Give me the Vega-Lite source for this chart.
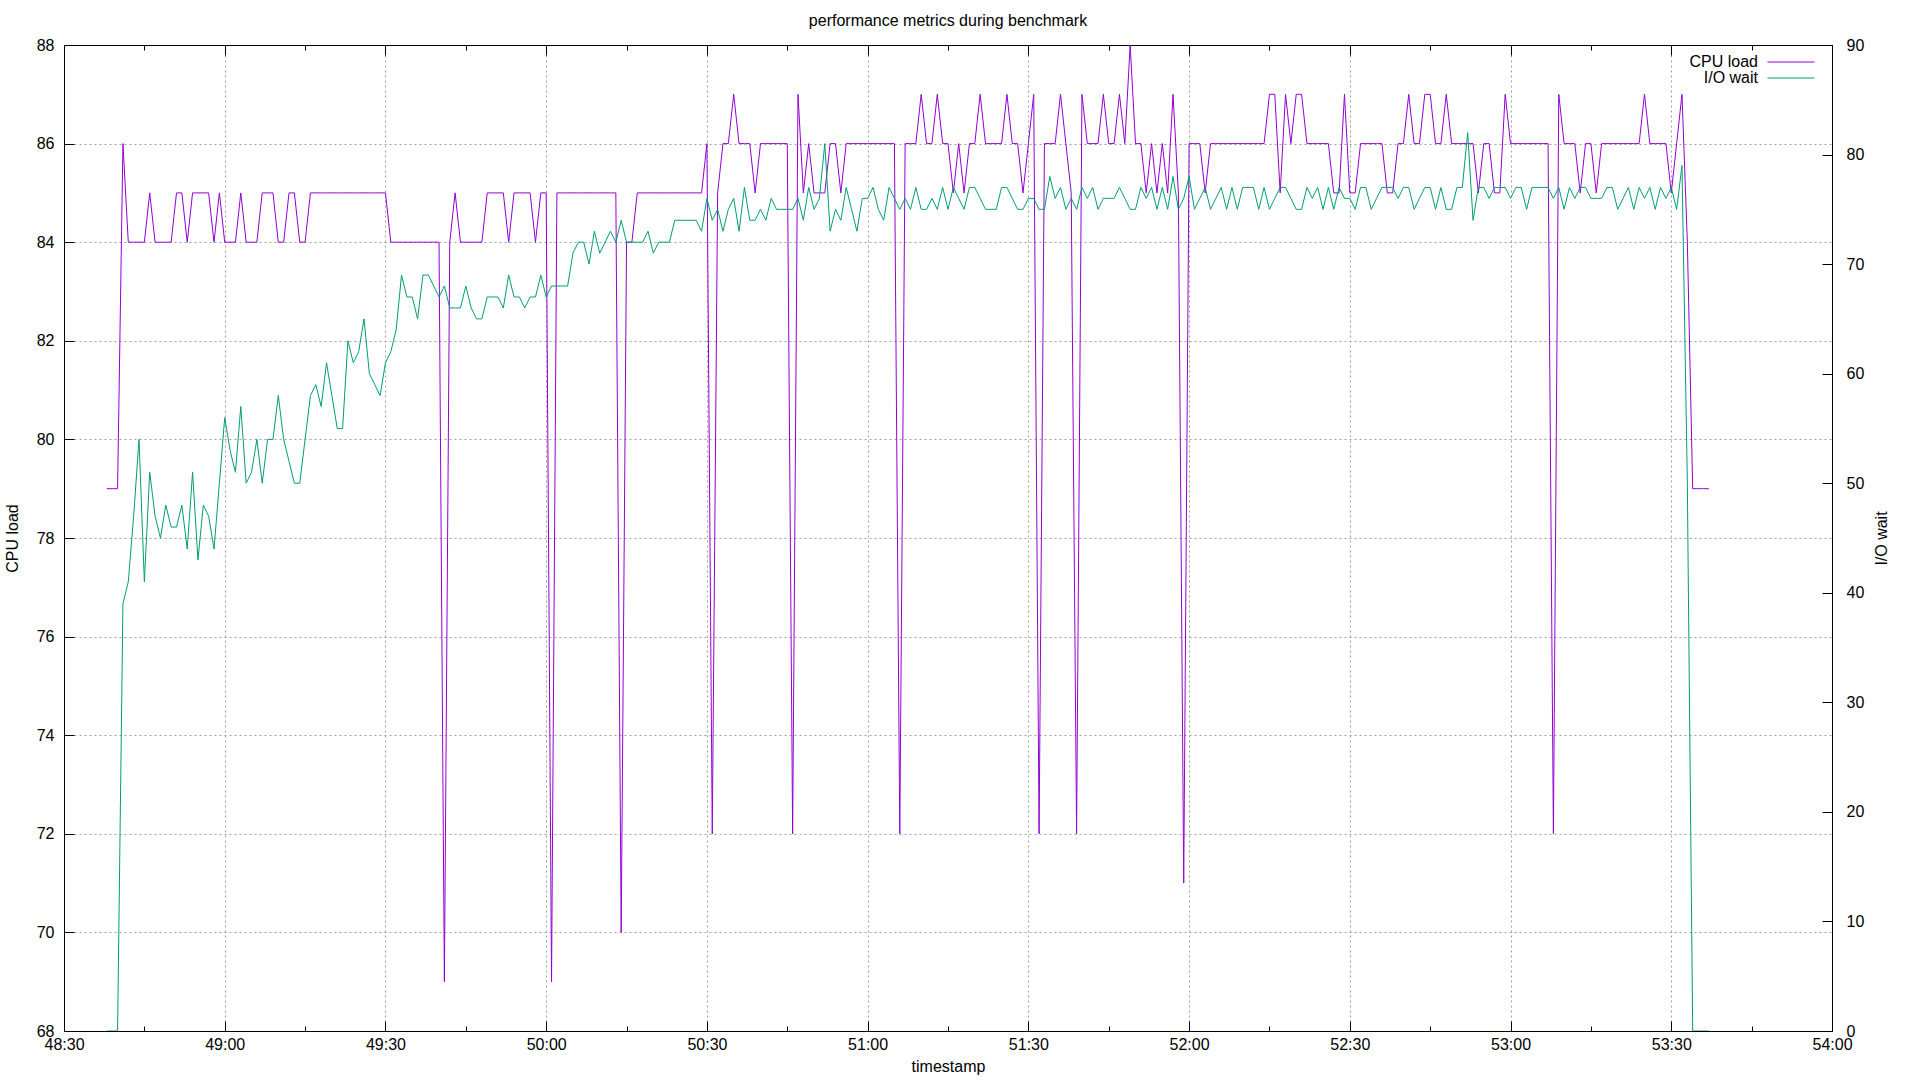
{
"$schema": "https://vega.github.io/schema/vega-lite/v6.json",
"width": 1768, "height": 986,
"autosize": {"type": "none"},
"padding": {"left": 64, "top": 45, "right": 88, "bottom": 49},
"background": "white",
"title": {"text": "performance metrics during benchmark", "fontSize": 16, "fontWeight": "normal", "font": "Liberation Sans", "offset": 8, "color": "black"},
"config": {
  "view": {"stroke": "black", "strokeWidth": 1},
  "font": "Liberation Sans",
  "axis": {"labelFont": "Liberation Sans", "titleFont": "Liberation Sans", "labelFontSize": 16, "titleFontSize": 16, "titleFontWeight": "normal", "labelColor": "black", "titleColor": "black", "domainColor": "black", "tickColor": "black", "tickWidth": 1, "domainWidth": 1}
},
"datasets": {"d": [
{"time":"2024-01-01T10:48:38","cpu":79,"io":0},
{"time":"2024-01-01T10:48:39","cpu":79,"io":0},
{"time":"2024-01-01T10:48:40","cpu":79,"io":0},
{"time":"2024-01-01T10:48:41","cpu":86,"io":39},
{"time":"2024-01-01T10:48:42","cpu":84,"io":41},
{"time":"2024-01-01T10:48:43","cpu":84,"io":47},
{"time":"2024-01-01T10:48:44","cpu":84,"io":54},
{"time":"2024-01-01T10:48:45","cpu":84,"io":41},
{"time":"2024-01-01T10:48:46","cpu":85,"io":51},
{"time":"2024-01-01T10:48:47","cpu":84,"io":47},
{"time":"2024-01-01T10:48:48","cpu":84,"io":45},
{"time":"2024-01-01T10:48:49","cpu":84,"io":48},
{"time":"2024-01-01T10:48:50","cpu":84,"io":46},
{"time":"2024-01-01T10:48:51","cpu":85,"io":46},
{"time":"2024-01-01T10:48:52","cpu":85,"io":48},
{"time":"2024-01-01T10:48:53","cpu":84,"io":44},
{"time":"2024-01-01T10:48:54","cpu":85,"io":51},
{"time":"2024-01-01T10:48:55","cpu":85,"io":43},
{"time":"2024-01-01T10:48:56","cpu":85,"io":48},
{"time":"2024-01-01T10:48:57","cpu":85,"io":47},
{"time":"2024-01-01T10:48:58","cpu":84,"io":44},
{"time":"2024-01-01T10:48:59","cpu":85,"io":50},
{"time":"2024-01-01T10:49:00","cpu":84,"io":56},
{"time":"2024-01-01T10:49:01","cpu":84,"io":53},
{"time":"2024-01-01T10:49:02","cpu":84,"io":51},
{"time":"2024-01-01T10:49:03","cpu":85,"io":57},
{"time":"2024-01-01T10:49:04","cpu":84,"io":50},
{"time":"2024-01-01T10:49:05","cpu":84,"io":51},
{"time":"2024-01-01T10:49:06","cpu":84,"io":54},
{"time":"2024-01-01T10:49:07","cpu":85,"io":50},
{"time":"2024-01-01T10:49:08","cpu":85,"io":54},
{"time":"2024-01-01T10:49:09","cpu":85,"io":54},
{"time":"2024-01-01T10:49:10","cpu":84,"io":58},
{"time":"2024-01-01T10:49:11","cpu":84,"io":54},
{"time":"2024-01-01T10:49:12","cpu":85,"io":52},
{"time":"2024-01-01T10:49:13","cpu":85,"io":50},
{"time":"2024-01-01T10:49:14","cpu":84,"io":50},
{"time":"2024-01-01T10:49:15","cpu":84,"io":54},
{"time":"2024-01-01T10:49:16","cpu":85,"io":58},
{"time":"2024-01-01T10:49:17","cpu":85,"io":59},
{"time":"2024-01-01T10:49:18","cpu":85,"io":57},
{"time":"2024-01-01T10:49:19","cpu":85,"io":61},
{"time":"2024-01-01T10:49:20","cpu":85,"io":58},
{"time":"2024-01-01T10:49:21","cpu":85,"io":55},
{"time":"2024-01-01T10:49:22","cpu":85,"io":55},
{"time":"2024-01-01T10:49:23","cpu":85,"io":63},
{"time":"2024-01-01T10:49:24","cpu":85,"io":61},
{"time":"2024-01-01T10:49:25","cpu":85,"io":62},
{"time":"2024-01-01T10:49:26","cpu":85,"io":65},
{"time":"2024-01-01T10:49:27","cpu":85,"io":60},
{"time":"2024-01-01T10:49:28","cpu":85,"io":59},
{"time":"2024-01-01T10:49:29","cpu":85,"io":58},
{"time":"2024-01-01T10:49:30","cpu":85,"io":61},
{"time":"2024-01-01T10:49:31","cpu":84,"io":62},
{"time":"2024-01-01T10:49:32","cpu":84,"io":64},
{"time":"2024-01-01T10:49:33","cpu":84,"io":69},
{"time":"2024-01-01T10:49:34","cpu":84,"io":67},
{"time":"2024-01-01T10:49:35","cpu":84,"io":67},
{"time":"2024-01-01T10:49:36","cpu":84,"io":65},
{"time":"2024-01-01T10:49:37","cpu":84,"io":69},
{"time":"2024-01-01T10:49:38","cpu":84,"io":69},
{"time":"2024-01-01T10:49:39","cpu":84,"io":68},
{"time":"2024-01-01T10:49:40","cpu":84,"io":67},
{"time":"2024-01-01T10:49:41","cpu":69,"io":68},
{"time":"2024-01-01T10:49:42","cpu":84,"io":66},
{"time":"2024-01-01T10:49:43","cpu":85,"io":66},
{"time":"2024-01-01T10:49:44","cpu":84,"io":66},
{"time":"2024-01-01T10:49:45","cpu":84,"io":68},
{"time":"2024-01-01T10:49:46","cpu":84,"io":66},
{"time":"2024-01-01T10:49:47","cpu":84,"io":65},
{"time":"2024-01-01T10:49:48","cpu":84,"io":65},
{"time":"2024-01-01T10:49:49","cpu":85,"io":67},
{"time":"2024-01-01T10:49:50","cpu":85,"io":67},
{"time":"2024-01-01T10:49:51","cpu":85,"io":67},
{"time":"2024-01-01T10:49:52","cpu":85,"io":66},
{"time":"2024-01-01T10:49:53","cpu":84,"io":69},
{"time":"2024-01-01T10:49:54","cpu":85,"io":67},
{"time":"2024-01-01T10:49:55","cpu":85,"io":67},
{"time":"2024-01-01T10:49:56","cpu":85,"io":66},
{"time":"2024-01-01T10:49:57","cpu":85,"io":67},
{"time":"2024-01-01T10:49:58","cpu":84,"io":67},
{"time":"2024-01-01T10:49:59","cpu":85,"io":69},
{"time":"2024-01-01T10:50:00","cpu":85,"io":67},
{"time":"2024-01-01T10:50:01","cpu":69,"io":68},
{"time":"2024-01-01T10:50:02","cpu":85,"io":68},
{"time":"2024-01-01T10:50:03","cpu":85,"io":68},
{"time":"2024-01-01T10:50:04","cpu":85,"io":68},
{"time":"2024-01-01T10:50:05","cpu":85,"io":71},
{"time":"2024-01-01T10:50:06","cpu":85,"io":72},
{"time":"2024-01-01T10:50:07","cpu":85,"io":72},
{"time":"2024-01-01T10:50:08","cpu":85,"io":70},
{"time":"2024-01-01T10:50:09","cpu":85,"io":73},
{"time":"2024-01-01T10:50:10","cpu":85,"io":71},
{"time":"2024-01-01T10:50:11","cpu":85,"io":72},
{"time":"2024-01-01T10:50:12","cpu":85,"io":73},
{"time":"2024-01-01T10:50:13","cpu":85,"io":72},
{"time":"2024-01-01T10:50:14","cpu":70,"io":74},
{"time":"2024-01-01T10:50:15","cpu":84,"io":72},
{"time":"2024-01-01T10:50:16","cpu":84,"io":72},
{"time":"2024-01-01T10:50:17","cpu":85,"io":72},
{"time":"2024-01-01T10:50:18","cpu":85,"io":72},
{"time":"2024-01-01T10:50:19","cpu":85,"io":73},
{"time":"2024-01-01T10:50:20","cpu":85,"io":71},
{"time":"2024-01-01T10:50:21","cpu":85,"io":72},
{"time":"2024-01-01T10:50:22","cpu":85,"io":72},
{"time":"2024-01-01T10:50:23","cpu":85,"io":72},
{"time":"2024-01-01T10:50:24","cpu":85,"io":74},
{"time":"2024-01-01T10:50:25","cpu":85,"io":74},
{"time":"2024-01-01T10:50:26","cpu":85,"io":74},
{"time":"2024-01-01T10:50:27","cpu":85,"io":74},
{"time":"2024-01-01T10:50:28","cpu":85,"io":74},
{"time":"2024-01-01T10:50:29","cpu":85,"io":73},
{"time":"2024-01-01T10:50:30","cpu":86,"io":76},
{"time":"2024-01-01T10:50:31","cpu":72,"io":74},
{"time":"2024-01-01T10:50:32","cpu":85,"io":75},
{"time":"2024-01-01T10:50:33","cpu":86,"io":73},
{"time":"2024-01-01T10:50:34","cpu":86,"io":75},
{"time":"2024-01-01T10:50:35","cpu":87,"io":76},
{"time":"2024-01-01T10:50:36","cpu":86,"io":73},
{"time":"2024-01-01T10:50:37","cpu":86,"io":77},
{"time":"2024-01-01T10:50:38","cpu":86,"io":74},
{"time":"2024-01-01T10:50:39","cpu":85,"io":74},
{"time":"2024-01-01T10:50:40","cpu":86,"io":75},
{"time":"2024-01-01T10:50:41","cpu":86,"io":74},
{"time":"2024-01-01T10:50:42","cpu":86,"io":76},
{"time":"2024-01-01T10:50:43","cpu":86,"io":75},
{"time":"2024-01-01T10:50:44","cpu":86,"io":75},
{"time":"2024-01-01T10:50:45","cpu":86,"io":75},
{"time":"2024-01-01T10:50:46","cpu":72,"io":75},
{"time":"2024-01-01T10:50:47","cpu":87,"io":76},
{"time":"2024-01-01T10:50:48","cpu":85,"io":74},
{"time":"2024-01-01T10:50:49","cpu":86,"io":77},
{"time":"2024-01-01T10:50:50","cpu":85,"io":75},
{"time":"2024-01-01T10:50:51","cpu":85,"io":76},
{"time":"2024-01-01T10:50:52","cpu":85,"io":81},
{"time":"2024-01-01T10:50:53","cpu":86,"io":73},
{"time":"2024-01-01T10:50:54","cpu":86,"io":75},
{"time":"2024-01-01T10:50:55","cpu":85,"io":74},
{"time":"2024-01-01T10:50:56","cpu":86,"io":77},
{"time":"2024-01-01T10:50:57","cpu":86,"io":75},
{"time":"2024-01-01T10:50:58","cpu":86,"io":73},
{"time":"2024-01-01T10:50:59","cpu":86,"io":76},
{"time":"2024-01-01T10:51:00","cpu":86,"io":76},
{"time":"2024-01-01T10:51:01","cpu":86,"io":77},
{"time":"2024-01-01T10:51:02","cpu":86,"io":75},
{"time":"2024-01-01T10:51:03","cpu":86,"io":74},
{"time":"2024-01-01T10:51:04","cpu":86,"io":77},
{"time":"2024-01-01T10:51:05","cpu":86,"io":76},
{"time":"2024-01-01T10:51:06","cpu":72,"io":75},
{"time":"2024-01-01T10:51:07","cpu":86,"io":76},
{"time":"2024-01-01T10:51:08","cpu":86,"io":75},
{"time":"2024-01-01T10:51:09","cpu":86,"io":77},
{"time":"2024-01-01T10:51:10","cpu":87,"io":75},
{"time":"2024-01-01T10:51:11","cpu":86,"io":75},
{"time":"2024-01-01T10:51:12","cpu":86,"io":76},
{"time":"2024-01-01T10:51:13","cpu":87,"io":75},
{"time":"2024-01-01T10:51:14","cpu":86,"io":77},
{"time":"2024-01-01T10:51:15","cpu":86,"io":75},
{"time":"2024-01-01T10:51:16","cpu":85,"io":77},
{"time":"2024-01-01T10:51:17","cpu":86,"io":76},
{"time":"2024-01-01T10:51:18","cpu":85,"io":75},
{"time":"2024-01-01T10:51:19","cpu":86,"io":77},
{"time":"2024-01-01T10:51:20","cpu":86,"io":77},
{"time":"2024-01-01T10:51:21","cpu":87,"io":76},
{"time":"2024-01-01T10:51:22","cpu":86,"io":75},
{"time":"2024-01-01T10:51:23","cpu":86,"io":75},
{"time":"2024-01-01T10:51:24","cpu":86,"io":75},
{"time":"2024-01-01T10:51:25","cpu":86,"io":77},
{"time":"2024-01-01T10:51:26","cpu":87,"io":77},
{"time":"2024-01-01T10:51:27","cpu":86,"io":76},
{"time":"2024-01-01T10:51:28","cpu":86,"io":75},
{"time":"2024-01-01T10:51:29","cpu":85,"io":75},
{"time":"2024-01-01T10:51:30","cpu":86,"io":76},
{"time":"2024-01-01T10:51:31","cpu":87,"io":76},
{"time":"2024-01-01T10:51:32","cpu":72,"io":75},
{"time":"2024-01-01T10:51:33","cpu":86,"io":75},
{"time":"2024-01-01T10:51:34","cpu":86,"io":78},
{"time":"2024-01-01T10:51:35","cpu":86,"io":76},
{"time":"2024-01-01T10:51:36","cpu":87,"io":77},
{"time":"2024-01-01T10:51:37","cpu":86,"io":75},
{"time":"2024-01-01T10:51:38","cpu":85,"io":76},
{"time":"2024-01-01T10:51:39","cpu":72,"io":75},
{"time":"2024-01-01T10:51:40","cpu":87,"io":77},
{"time":"2024-01-01T10:51:41","cpu":86,"io":76},
{"time":"2024-01-01T10:51:42","cpu":86,"io":77},
{"time":"2024-01-01T10:51:43","cpu":86,"io":75},
{"time":"2024-01-01T10:51:44","cpu":87,"io":76},
{"time":"2024-01-01T10:51:45","cpu":86,"io":76},
{"time":"2024-01-01T10:51:46","cpu":86,"io":76},
{"time":"2024-01-01T10:51:47","cpu":87,"io":77},
{"time":"2024-01-01T10:51:48","cpu":86,"io":76},
{"time":"2024-01-01T10:51:49","cpu":88,"io":75},
{"time":"2024-01-01T10:51:50","cpu":86,"io":75},
{"time":"2024-01-01T10:51:51","cpu":86,"io":77},
{"time":"2024-01-01T10:51:52","cpu":85,"io":76},
{"time":"2024-01-01T10:51:53","cpu":86,"io":77},
{"time":"2024-01-01T10:51:54","cpu":85,"io":75},
{"time":"2024-01-01T10:51:55","cpu":86,"io":77},
{"time":"2024-01-01T10:51:56","cpu":85,"io":75},
{"time":"2024-01-01T10:51:57","cpu":87,"io":78},
{"time":"2024-01-01T10:51:58","cpu":85,"io":75},
{"time":"2024-01-01T10:51:59","cpu":71,"io":76},
{"time":"2024-01-01T10:52:00","cpu":86,"io":78},
{"time":"2024-01-01T10:52:01","cpu":86,"io":75},
{"time":"2024-01-01T10:52:02","cpu":86,"io":76},
{"time":"2024-01-01T10:52:03","cpu":85,"io":77},
{"time":"2024-01-01T10:52:04","cpu":86,"io":75},
{"time":"2024-01-01T10:52:05","cpu":86,"io":76},
{"time":"2024-01-01T10:52:06","cpu":86,"io":77},
{"time":"2024-01-01T10:52:07","cpu":86,"io":75},
{"time":"2024-01-01T10:52:08","cpu":86,"io":77},
{"time":"2024-01-01T10:52:09","cpu":86,"io":75},
{"time":"2024-01-01T10:52:10","cpu":86,"io":77},
{"time":"2024-01-01T10:52:11","cpu":86,"io":77},
{"time":"2024-01-01T10:52:12","cpu":86,"io":77},
{"time":"2024-01-01T10:52:13","cpu":86,"io":75},
{"time":"2024-01-01T10:52:14","cpu":86,"io":77},
{"time":"2024-01-01T10:52:15","cpu":87,"io":75},
{"time":"2024-01-01T10:52:16","cpu":87,"io":76},
{"time":"2024-01-01T10:52:17","cpu":85,"io":77},
{"time":"2024-01-01T10:52:18","cpu":87,"io":77},
{"time":"2024-01-01T10:52:19","cpu":86,"io":76},
{"time":"2024-01-01T10:52:20","cpu":87,"io":75},
{"time":"2024-01-01T10:52:21","cpu":87,"io":75},
{"time":"2024-01-01T10:52:22","cpu":86,"io":77},
{"time":"2024-01-01T10:52:23","cpu":86,"io":76},
{"time":"2024-01-01T10:52:24","cpu":86,"io":77},
{"time":"2024-01-01T10:52:25","cpu":86,"io":75},
{"time":"2024-01-01T10:52:26","cpu":86,"io":77},
{"time":"2024-01-01T10:52:27","cpu":85,"io":75},
{"time":"2024-01-01T10:52:28","cpu":85,"io":77},
{"time":"2024-01-01T10:52:29","cpu":87,"io":76},
{"time":"2024-01-01T10:52:30","cpu":85,"io":76},
{"time":"2024-01-01T10:52:31","cpu":85,"io":75},
{"time":"2024-01-01T10:52:32","cpu":86,"io":77},
{"time":"2024-01-01T10:52:33","cpu":86,"io":77},
{"time":"2024-01-01T10:52:34","cpu":86,"io":75},
{"time":"2024-01-01T10:52:35","cpu":86,"io":76},
{"time":"2024-01-01T10:52:36","cpu":86,"io":77},
{"time":"2024-01-01T10:52:37","cpu":85,"io":77},
{"time":"2024-01-01T10:52:38","cpu":85,"io":77},
{"time":"2024-01-01T10:52:39","cpu":86,"io":76},
{"time":"2024-01-01T10:52:40","cpu":86,"io":77},
{"time":"2024-01-01T10:52:41","cpu":87,"io":77},
{"time":"2024-01-01T10:52:42","cpu":86,"io":75},
{"time":"2024-01-01T10:52:43","cpu":86,"io":76},
{"time":"2024-01-01T10:52:44","cpu":87,"io":77},
{"time":"2024-01-01T10:52:45","cpu":87,"io":77},
{"time":"2024-01-01T10:52:46","cpu":86,"io":75},
{"time":"2024-01-01T10:52:47","cpu":86,"io":77},
{"time":"2024-01-01T10:52:48","cpu":87,"io":75},
{"time":"2024-01-01T10:52:49","cpu":86,"io":75},
{"time":"2024-01-01T10:52:50","cpu":86,"io":77},
{"time":"2024-01-01T10:52:51","cpu":86,"io":77},
{"time":"2024-01-01T10:52:52","cpu":86,"io":82},
{"time":"2024-01-01T10:52:53","cpu":86,"io":74},
{"time":"2024-01-01T10:52:54","cpu":85,"io":77},
{"time":"2024-01-01T10:52:55","cpu":86,"io":77},
{"time":"2024-01-01T10:52:56","cpu":86,"io":76},
{"time":"2024-01-01T10:52:57","cpu":85,"io":77},
{"time":"2024-01-01T10:52:58","cpu":85,"io":77},
{"time":"2024-01-01T10:52:59","cpu":87,"io":77},
{"time":"2024-01-01T10:53:00","cpu":86,"io":76},
{"time":"2024-01-01T10:53:01","cpu":86,"io":77},
{"time":"2024-01-01T10:53:02","cpu":86,"io":77},
{"time":"2024-01-01T10:53:03","cpu":86,"io":75},
{"time":"2024-01-01T10:53:04","cpu":86,"io":77},
{"time":"2024-01-01T10:53:05","cpu":86,"io":77},
{"time":"2024-01-01T10:53:06","cpu":86,"io":77},
{"time":"2024-01-01T10:53:07","cpu":86,"io":77},
{"time":"2024-01-01T10:53:08","cpu":72,"io":76},
{"time":"2024-01-01T10:53:09","cpu":87,"io":77},
{"time":"2024-01-01T10:53:10","cpu":86,"io":75},
{"time":"2024-01-01T10:53:11","cpu":86,"io":77},
{"time":"2024-01-01T10:53:12","cpu":86,"io":76},
{"time":"2024-01-01T10:53:13","cpu":85,"io":77},
{"time":"2024-01-01T10:53:14","cpu":86,"io":77},
{"time":"2024-01-01T10:53:15","cpu":86,"io":76},
{"time":"2024-01-01T10:53:16","cpu":85,"io":76},
{"time":"2024-01-01T10:53:17","cpu":86,"io":76},
{"time":"2024-01-01T10:53:18","cpu":86,"io":77},
{"time":"2024-01-01T10:53:19","cpu":86,"io":77},
{"time":"2024-01-01T10:53:20","cpu":86,"io":75},
{"time":"2024-01-01T10:53:21","cpu":86,"io":76},
{"time":"2024-01-01T10:53:22","cpu":86,"io":77},
{"time":"2024-01-01T10:53:23","cpu":86,"io":75},
{"time":"2024-01-01T10:53:24","cpu":86,"io":77},
{"time":"2024-01-01T10:53:25","cpu":87,"io":76},
{"time":"2024-01-01T10:53:26","cpu":86,"io":77},
{"time":"2024-01-01T10:53:27","cpu":86,"io":75},
{"time":"2024-01-01T10:53:28","cpu":86,"io":77},
{"time":"2024-01-01T10:53:29","cpu":86,"io":76},
{"time":"2024-01-01T10:53:30","cpu":85,"io":77},
{"time":"2024-01-01T10:53:31","cpu":86,"io":75},
{"time":"2024-01-01T10:53:32","cpu":87,"io":79},
{"time":"2024-01-01T10:53:33","cpu":84,"io":50},
{"time":"2024-01-01T10:53:34","cpu":79,"io":0},
{"time":"2024-01-01T10:53:35","cpu":79,"io":0},
{"time":"2024-01-01T10:53:36","cpu":79,"io":0},
{"time":"2024-01-01T10:53:37","cpu":79,"io":0}
]},
"data": {"name": "d"},
"layer": [
  {
    "mark": {"type": "line", "strokeWidth": 1, "clip": true},
    "encoding": {
      "x": {"field": "time", "type": "temporal",
        "scale": {"domain": [{"year": 2024, "month": 1, "date": 1, "hours": 10, "minutes": 48, "seconds": 30}, {"year": 2024, "month": 1, "date": 1, "hours": 10, "minutes": 54, "seconds": 0}], "nice": false},
        "axis": {"orient": "bottom", "title": "timestamp", "format": "%M:%S", "tickCount": 11, "tickSize": -10, "labelPadding": 15, "titlePadding": 6, "grid": true, "gridDash": [2, 3], "gridColor": "#a0a0a0", "gridWidth": 1, "labelFlush": false, "labelOverlap": false}},
      "y": {"field": "cpu", "type": "quantitative",
        "scale": {"domain": [68, 88], "nice": false, "zero": false},
        "axis": {"orient": "left", "title": "CPU load", "values": [68, 70, 72, 74, 76, 78, 80, 82, 84, 86, 88], "tickSize": -10, "labelPadding": 20, "titlePadding": 16, "grid": true, "gridDash": [2, 3], "gridColor": "#a0a0a0", "gridWidth": 1, "gridOpacity": {"condition": {"test": "datum.value == 88 || datum.value == 68", "value": 0}, "value": 1}, "labelFlush": false, "labelOverlap": false}},
      "color": {"datum": "CPU load", "type": "nominal",
        "scale": {"domain": ["CPU load", "I/O wait"], "range": ["#9400d3", "#009e73"]},
        "legend": {"orient": "none", "legendX": 1719, "legendY": 9, "title": null, "symbolType": "M-4.7,0H4.7", "symbolSize": 100, "symbolStrokeWidth": 1, "labelFontSize": 16, "labelFont": "Liberation Sans", "labelColor": "black", "labelAlign": "right", "labelOffset": -41, "rowPadding": 0, "padding": 0, "labelLimit": 300}}
    }
  },
  {
    "mark": {"type": "line", "strokeWidth": 1, "clip": true},
    "encoding": {
      "x": {"field": "time", "type": "temporal",
        "axis": {"orient": "bottom", "title": null, "labels": false, "domain": false, "grid": false, "tickCount": 33, "tickSize": -5}},
      "y": {"field": "io", "type": "quantitative",
        "scale": {"domain": [0, 90], "nice": false},
        "axis": {"orient": "right", "title": "I/O wait", "titleAngle": 270, "values": [0, 10, 20, 30, 40, 50, 60, 70, 80, 90], "tickSize": -10, "labelPadding": 24, "titlePadding": 26, "grid": false, "labelFlush": false, "labelOverlap": false}},
      "color": {"datum": "I/O wait", "type": "nominal"}
    }
  },
  {
    "mark": {"type": "line", "opacity": 0},
    "encoding": {
      "x": {"field": "time", "type": "temporal",
        "axis": {"orient": "top", "title": null, "labels": false, "grid": false, "tickCount": 11, "tickSize": -10}},
      "y": {"field": "cpu", "type": "quantitative", "scale": {"domain": [68, 88], "nice": false, "zero": false}, "axis": null}
    }
  },
  {
    "mark": {"type": "line", "opacity": 0},
    "encoding": {
      "x": {"field": "time", "type": "temporal",
        "axis": {"orient": "top", "title": null, "labels": false, "domain": false, "grid": false, "tickCount": 33, "tickSize": -5}},
      "y": {"field": "cpu", "type": "quantitative", "scale": {"domain": [68, 88], "nice": false, "zero": false}, "axis": null}
    }
  }
],
"resolve": {"scale": {"y": "independent"}, "axis": {"x": "independent"}}
}
